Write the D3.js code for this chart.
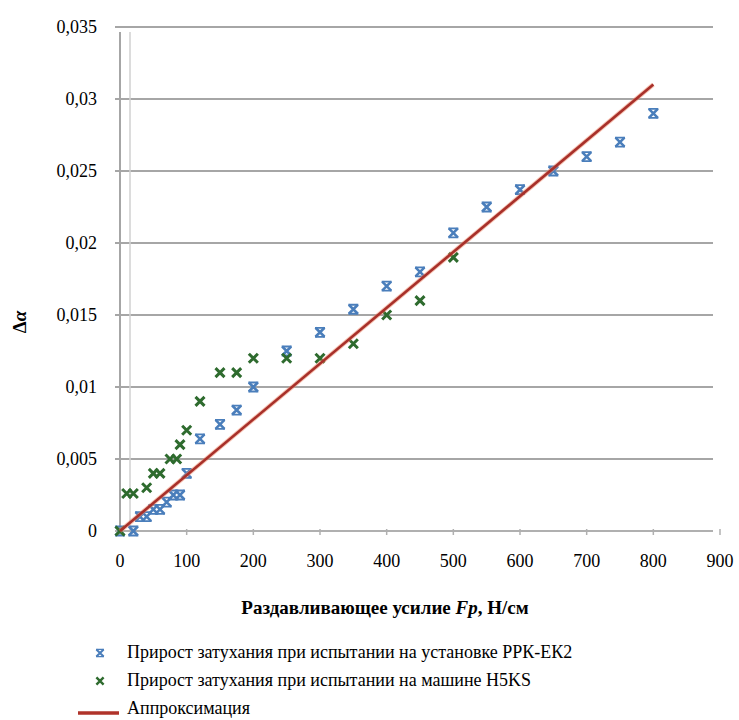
<!DOCTYPE html>
<html><head><meta charset="utf-8">
<script src="https://cdn.jsdelivr.net/npm/d3@7"></script>
<style>body{margin:0;background:#fff}svg{display:block}</style>
</head><body>
<script>
// Data
const xTicks = [0,100,200,300,400,500,600,700,800,900];
const yTicks = [0,0.005,0.01,0.015,0.02,0.025,0.03,0.035];
const yTickLabels = ["0","0,005","0,01","0,015","0,02","0,025","0,03","0,035"];
const blueX = [0,20,30,40,50,60,70,80,90,100,120,150,175,200,250,300,350,400,450,500,550,600,650,700,750,800];
const blueY = [0,0,0.001,0.001,0.0015,0.0015,0.002,0.0025,0.0025,0.004,0.0064,0.0074,0.0084,0.01,0.0125,0.0138,0.0154,0.017,0.018,0.0207,0.0225,0.0237,0.025,0.026,0.027,0.029];
const greenX = [0,10,20,40,50,60,75,85,90,100,120,150,175,200,250,300,350,400,450,500];
const greenY = [0,0.0026,0.0026,0.003,0.004,0.004,0.005,0.005,0.006,0.007,0.009,0.011,0.011,0.012,0.012,0.012,0.013,0.015,0.016,0.019];
const fitX = [0,800];
const fitY = [0,0.031];
const legendLabels = ["Прирост затухания при испытании на установке РРК-ЕК2","Прирост затухания при испытании на машине H5KS","Аппроксимация"];

const FONT="Liberation Serif";
const W=739,H=720;
const svg=d3.select("body").append("svg").attr("width",W).attr("height",H).attr("font-family",FONT);
const x=d3.scaleLinear().domain([0,900]).range([120,720]);
const y=d3.scaleLinear().domain([0,0.035]).range([531,27]);

// gridlines
svg.append("g").selectAll("line").data(yTicks.slice(1)).join("line")
  .attr("x1",115).attr("x2",713).attr("y1",d=>y(d)).attr("y2",d=>y(d))
  .attr("stroke","#a6a6a6").attr("stroke-width",2);
// vertical axis lines
svg.append("line").attr("x1",120).attr("x2",120).attr("y1",32).attr("y2",531).attr("stroke","#a6a6a6").attr("stroke-width",2);
svg.append("line").attr("x1",130).attr("x2",130).attr("y1",32).attr("y2",531).attr("stroke","#d0d0d0").attr("stroke-width",1.5);
// x axis
svg.append("line").attr("x1",115).attr("x2",713).attr("y1",531).attr("y2",531).attr("stroke","#b0b0b0").attr("stroke-width",2);
svg.append("g").selectAll("line").data(xTicks).join("line")
  .attr("x1",d=>x(d)).attr("x2",d=>x(d)).attr("y1",529).attr("y2",535).attr("stroke","#b0b0b0").attr("stroke-width",1.5);

// tick labels
svg.append("g").attr("font-family",FONT).selectAll("text").data(xTicks).join("text")
  .attr("font-family",FONT)
  .attr("x",d=>x(d)).attr("y",567).attr("text-anchor","middle").attr("font-size",18).text(d=>d);
svg.append("g").attr("font-family",FONT).selectAll("text").data(yTicks).join("text")
  .attr("font-family",FONT)
  .attr("x",97).attr("y",d=>y(d)+6).attr("text-anchor","end").attr("font-size",18).text((d,i)=>yTickLabels[i]);

// axis titles
const yt=svg.append("text").attr("font-family",FONT).attr("transform","translate(26,322) rotate(-90)").attr("text-anchor","middle")
  .attr("font-size",19).attr("font-weight","bold");
yt.append("tspan").text("Δ");
yt.append("tspan").attr("font-style","italic").text("α");
const xt=svg.append("text").attr("font-family",FONT).attr("x",385).attr("y",614).attr("text-anchor","middle").attr("font-size",19).attr("font-weight","bold");
xt.append("tspan").text("Раздавливающее усилие ");
xt.append("tspan").attr("font-style","italic").text("Fp");
xt.append("tspan").text(", Н/см");

// markers
function blueMark(g){
  g.append("path").attr("d","M-4.5,-4.5L4.5,4.5M4.5,-4.5L-4.5,4.5").attr("stroke","#4a7ebb").attr("stroke-width",2.6);
  g.append("path").attr("d","M-5,-4.5L5,-4.5M-5,4.5L5,4.5").attr("stroke","#4a7ebb").attr("stroke-width",1.8);
}
function greenMark(g){
  g.append("path").attr("d","M-4.5,-4.5L4.5,4.5M4.5,-4.5L-4.5,4.5").attr("stroke","#2e6b2e").attr("stroke-width",3);
}
const blue=blueX.map((v,i)=>[v,blueY[i]]);
const green=greenX.map((v,i)=>[v,greenY[i]]);
svg.append("g").selectAll("g").data(blue).join("g")
  .attr("transform",d=>`translate(${x(d[0])},${y(d[1])})`).each(function(){blueMark(d3.select(this));});
svg.append("g").selectAll("g").data(green).join("g")
  .attr("transform",d=>`translate(${x(d[0])},${y(d[1])})`).each(function(){greenMark(d3.select(this));});

// fit line
const fit=fitX.map((v,i)=>[v,fitY[i]]);
svg.append("path").datum(fit).attr("d",d3.line().x(d=>x(d[0])).y(d=>y(d[1])))
  .attr("stroke","#f08a6a").attr("stroke-width",4.5).attr("fill","none").attr("opacity",0.5);
svg.append("path").datum(fit).attr("d",d3.line().x(d=>x(d[0])).y(d=>y(d[1])))
  .attr("stroke","#a8302a").attr("stroke-width",2.6).attr("fill","none");

// legend
const lg=svg.append("g");
const ly=[652,680,708];
lg.selectAll("text").data(legendLabels).join("text").attr("font-family",FONT)
  .attr("x",127).attr("y",(d,i)=>ly[i]+6).attr("font-size",18).text(d=>d);
const m1=lg.append("g").attr("transform",`translate(100,${ly[0]+1}) scale(0.8)`); blueMark(m1);
const m2=lg.append("g").attr("transform",`translate(100,${ly[1]+1}) scale(0.8)`); greenMark(m2);
lg.append("line").attr("x1",78).attr("x2",119).attr("y1",ly[2]+5).attr("y2",ly[2]+5).attr("stroke","#b0332a").attr("stroke-width",3.5);
</script>
</body></html>
